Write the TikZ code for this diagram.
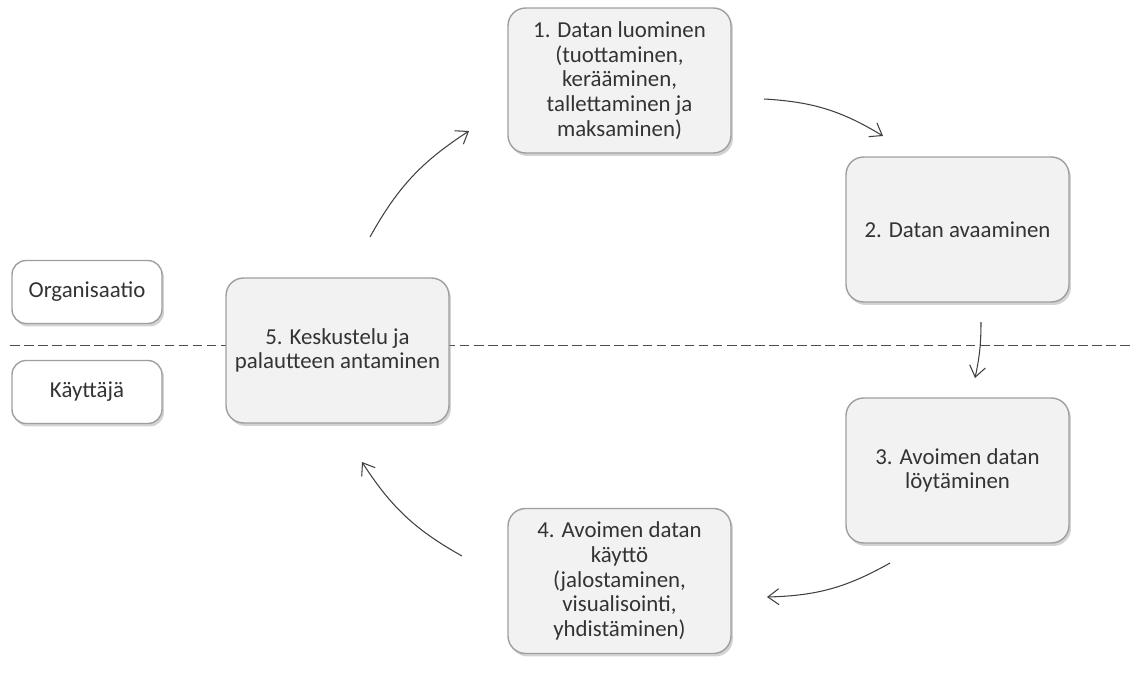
\documentclass[tikz,border=0pt]{standalone}
\usepackage{fontspec}
\setmainfont{Carlito}
\usetikzlibrary{arrows.meta,shadows}

\tikzset{
  phase/.style={draw=gray!75, fill=gray!10, rounded corners=10pt, thick,
    minimum width=4.46cm, minimum height=2.9cm, align=center,
    font=\fontsize{13}{14}\selectfont, text=black!80,
    drop shadow={shadow xshift=0.4mm, shadow yshift=-0.6mm, opacity=0.35}},
  role/.style={draw=gray!75, fill=white, rounded corners=8pt, thick,
    minimum width=3cm, minimum height=1.26cm, align=center,
    font=\fontsize{13}{14}\selectfont, text=black!80,
    drop shadow={shadow xshift=0.4mm, shadow yshift=-0.6mm, opacity=0.35}},
  flow/.style={-{Straight Barb[length=2.2mm,width=3.2mm]}, black!75, semithick, bend left=14}
}

\begin{document}
\begin{tikzpicture}[x=0.02cm, y=-0.02cm]
        \useasboundingbox (0,0) rectangle (1136,686);

        % divider
        \draw[black!70, dash pattern=on 5.5pt off 2.5pt] (10,345) -- (1133,345);

        % roles
        \node[role] (org) at (87,292) {Organisaatio};
        \node[role] (user) at (87,392) {Käyttäjä};

        % phases
        \node[phase] (create) at (619.5,80.5) {1. Datan luominen\\(tuottaminen,\\kerääminen,\\tallettaminen ja\\maksaminen)};
        \node[phase] (open) at (957.5,229.5) {2. Datan avaaminen};
        \node[phase] (find) at (957.5,470.5) {3. Avoimen datan\\löytäminen};
        \node[phase] (use) at (619.5,581) {4. Avoimen datan\\käyttö\\(jalostaminen,\\visualisointi,\\yhdistäminen)};
        \node[phase] (talk) at (337.5,350.5) {5. Keskustelu ja\\palautteen antaminen};

        % arrow ends
        \coordinate (talk out) at (370,237);
        \coordinate (create in) at (469,131);
        \coordinate (create out) at (764,99);
        \coordinate (open in) at (883,136);
        \coordinate (open out) at (981,322);
        \coordinate (find in) at (975,378);
        \coordinate (find out) at (890,563);
        \coordinate (use in) at (767,597);
        \coordinate (use out) at (462,556);
        \coordinate (talk in) at (362,462);

        % cycle
        \draw[flow] (talk out) to (create in);
        \draw[flow] (create out) to (open in);
        \draw[flow, bend left=6] (open out) to (find in);
        \draw[flow] (find out) to (use in);
        \draw[flow] (use out) to (talk in);
\end{tikzpicture}
\end{document}
